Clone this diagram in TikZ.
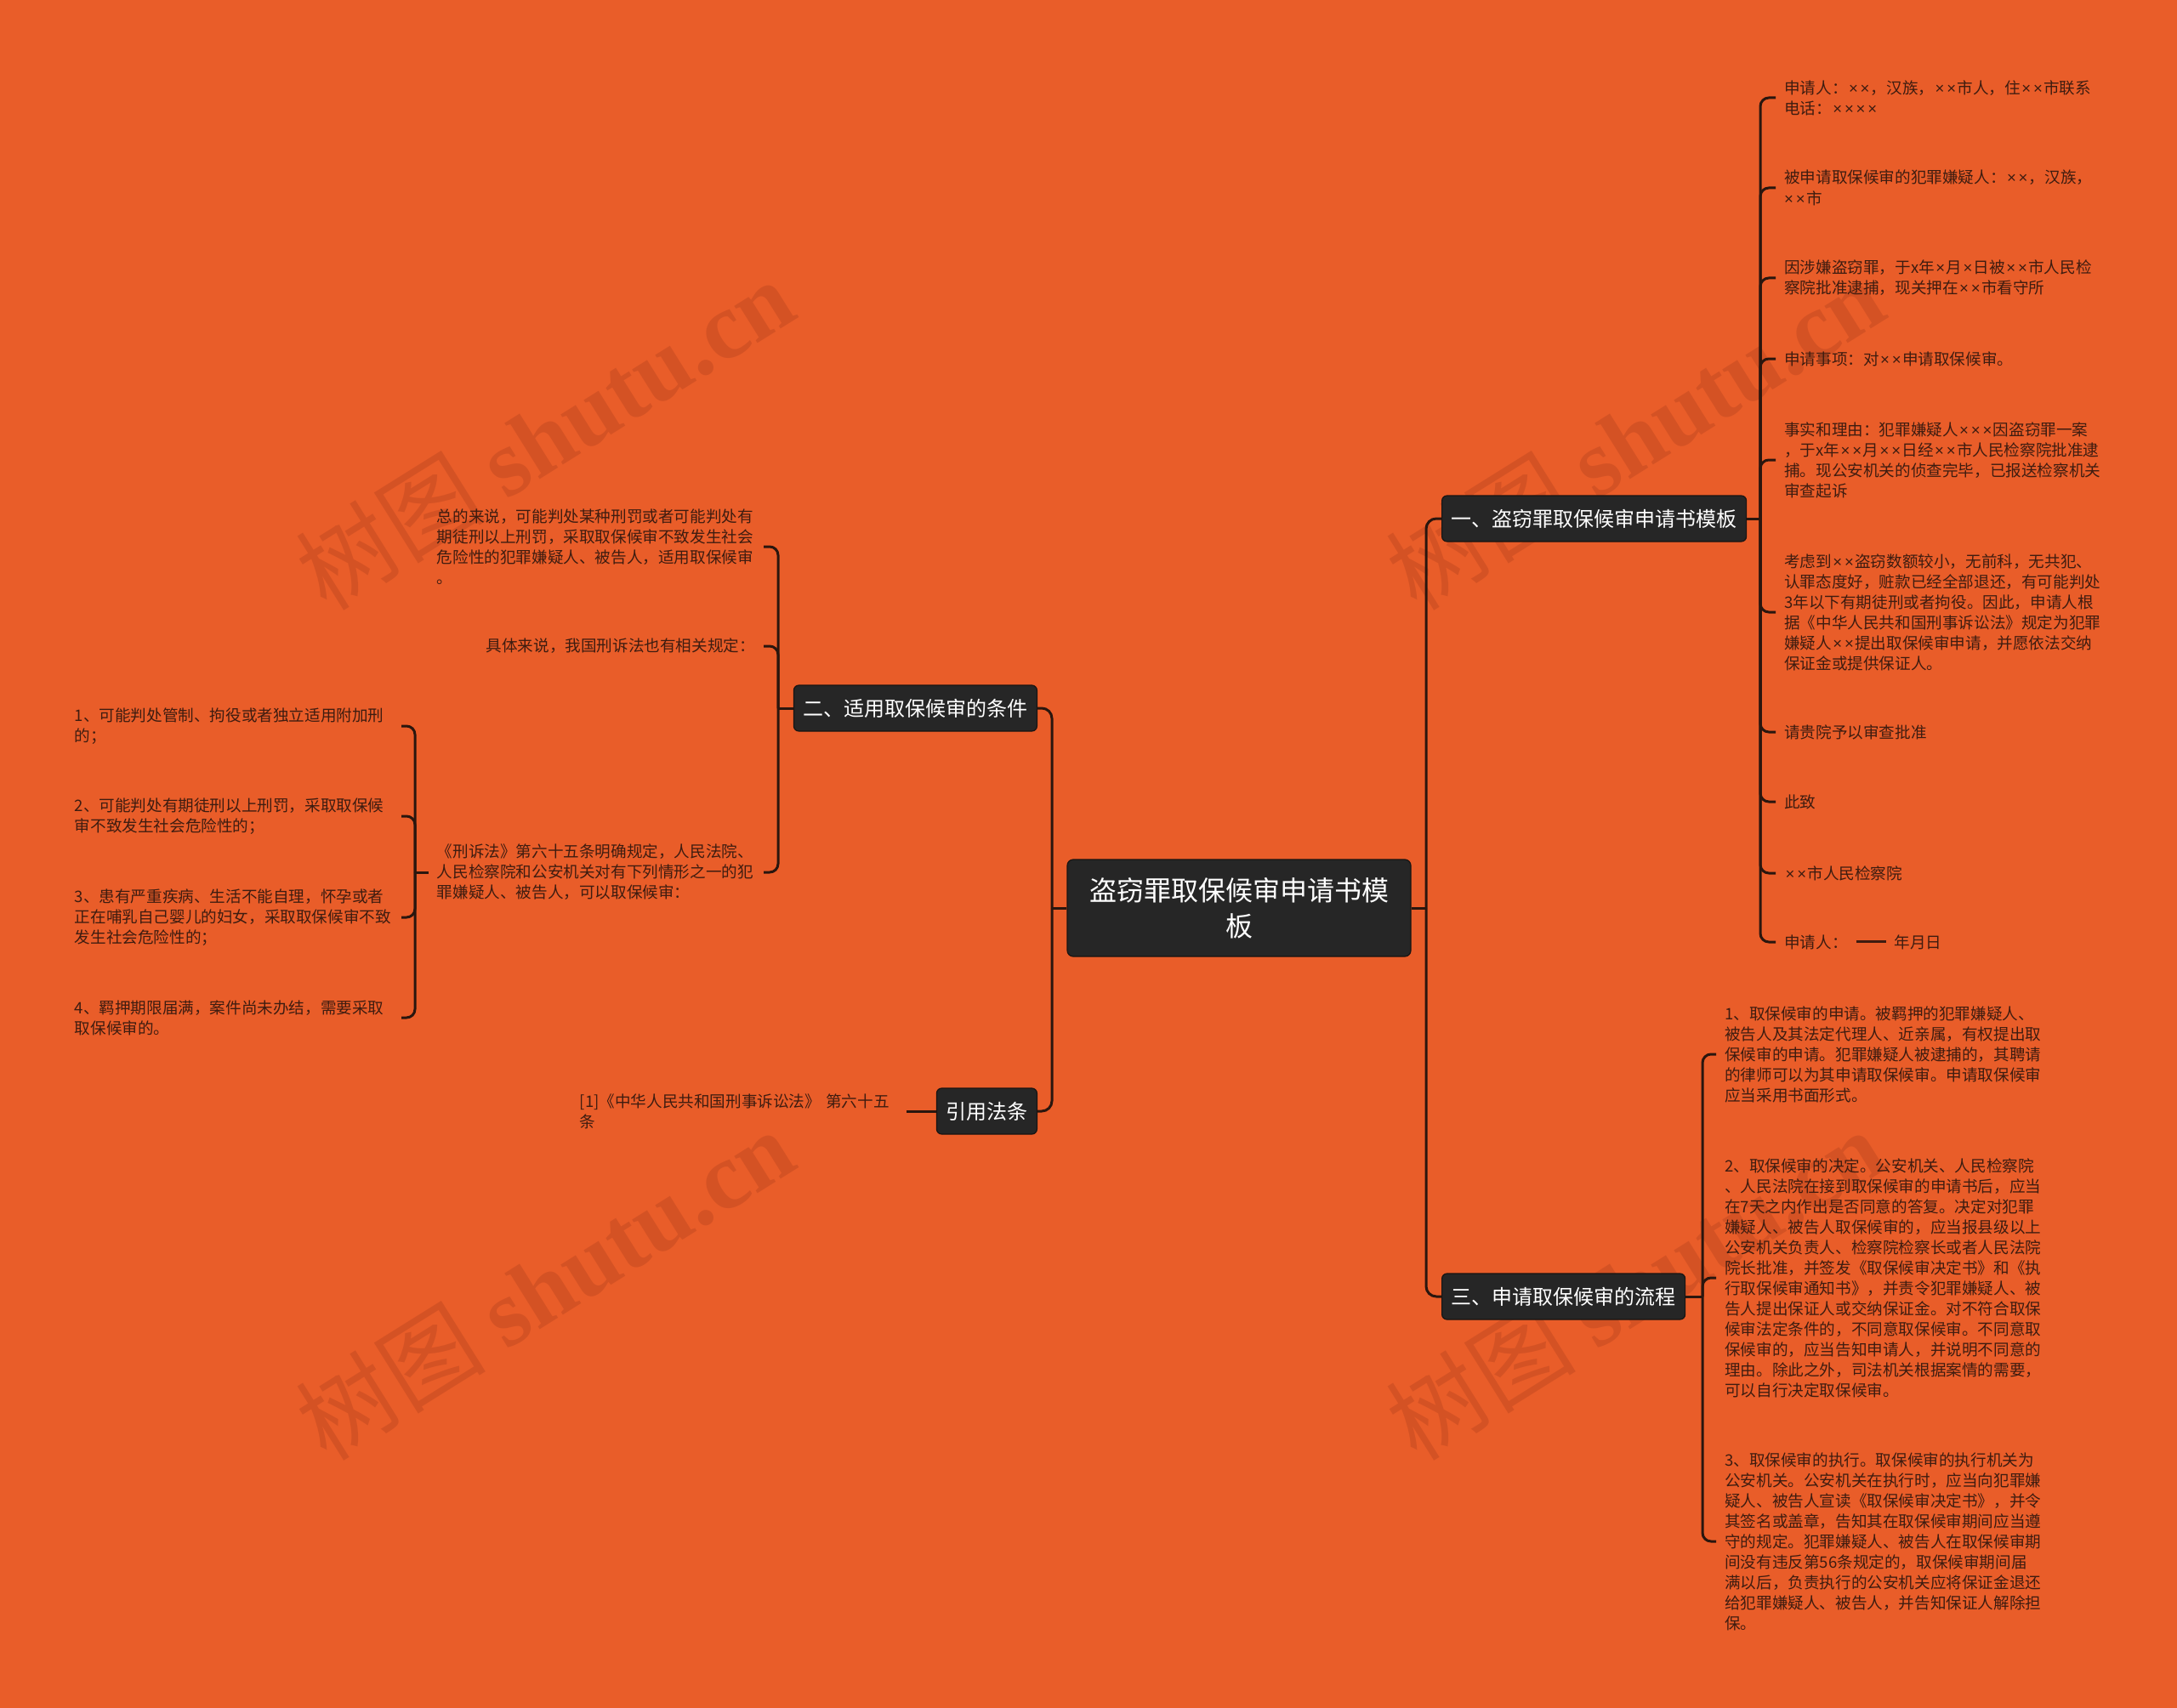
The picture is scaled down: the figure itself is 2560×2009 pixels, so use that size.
\documentclass[tikz,border=0pt]{standalone}
\usepackage{fontspec}
\setmainfont{Noto Sans CJK SC}
\newfontfamily\wmserif{Liberation Serif}
\newfontfamily\lsans{Liberation Sans}
\newcommand\tm{\kern1.4pt{\lsans ×}\kern1.4pt}
\definecolor{bgc}{RGB}{233,93,41}
\definecolor{boxc}{RGB}{38,38,38}
\definecolor{boxedge}{RGB}{25,20,18}
\definecolor{ink}{RGB}{62,28,16}
\definecolor{wirec}{RGB}{42,22,14}
\definecolor{wmc}{RGB}{160,55,25}
\begin{document}
\begin{tikzpicture}[x=1pt,y=-1pt,
  wire/.style={draw=wirec,line width=3pt},
  hook/.style={wire,rounded corners=10pt},
  trunk/.style={wire,rounded corners=12pt},
  rootbox/.style={fill=boxc,draw=boxedge,line width=1.2pt,rounded corners=7pt,text=white,
    font=\fontsize{32}{42}\selectfont,align=center,text width=380pt,
    minimum width=404pt,minimum height=114pt,inner sep=0pt},
  topic/.style={fill=boxc,draw=boxedge,line width=1.2pt,rounded corners=6pt,text=white,
    font=\fontsize{24}{28}\selectfont,minimum height=54pt,inner xsep=11pt,inner ysep=0pt},
  leaf/.style={text=ink,font=\fontsize{18.6}{24}\selectfont,align=left,text width=374pt,
    inner xsep=10pt,inner ysep=2pt},
  leafone/.style={text=ink,font=\fontsize{18.6}{24}\selectfont,inner xsep=10pt,inner ysep=2pt},
  wmark/.style={text=wmc,text opacity=0.28,font=\fontsize{112}{118}\selectfont,inner sep=0pt}
]
\fill[bgc] (0,0) rectangle (2560,2009);
\useasboundingbox (0,0) rectangle (2560,2009);

% watermarks
\node[wmark,rotate=32] (w1) at (640,510) {树图 {\wmserif\bfseries shutu.cn}};
\node[wmark,rotate=32] (w2) at (1922,510) {树图 {\wmserif\bfseries shutu.cn}};
\node[wmark,rotate=32] (w3) at (640,1510) {树图 {\wmserif\bfseries shutu.cn}};
\node[wmark,rotate=32] (w4) at (1922,1510) {树图 {\wmserif\bfseries shutu.cn}};

% root and topics
\node[rootbox] (root) at (1457,1068) {盗窃罪取保候审申请书模\\板};
\node[topic,anchor=west] (b1) at (1695,610) {一、盗窃罪取保候审申请书模板};
\node[topic,anchor=west] (b3) at (1695,1525) {三、申请取保候审的流程};
\node[topic,anchor=east] (b2) at (1220,833) {二、适用取保候审的条件};
\node[topic,anchor=east] (b4) at (1220,1307) {引用法条};

\coordinate (jr) at (1677,1068);
\coordinate (jl) at (1237,1068);
\draw[wire] (root.east) -- (jr);
\draw[wire] (root.west) -- (jl);
\draw[trunk] (jr) |- (b1.west);
\draw[trunk] (jr) |- (b3.west);
\draw[trunk] (jl) |- (b2.east);
\draw[trunk] (jl) |- (b4.east);

% branch 1 leaves
\node[leaf,anchor=west] (r1) at (2088,115) {申请人：\tm{}\tm{}，汉族，\tm{}\tm{}市人，住\tm{}\tm{}市联系\\电话：\tm{}\tm{}\tm{}\tm{}};
\node[leaf,anchor=west] (r2) at (2088,221) {被申请取保候审的犯罪嫌疑人：\tm{}\tm{}，汉族，\\\tm{}\tm{}市};
\node[leaf,anchor=west] (r3) at (2088,327) {因涉嫌盗窃罪，于x年\tm{}月\tm{}日被\tm{}\tm{}市人民检\\察院批准逮捕，现关押在\tm{}\tm{}市看守所};
\node[leafone,anchor=west] (r4) at (2088,422) {申请事项：对\tm{}\tm{}申请取保候审。};
\node[leaf,anchor=west] (r5) at (2088,541) {事实和理由：犯罪嫌疑人\tm{}\tm{}\tm{}因盗窃罪一案\\，于x年\tm{}\tm{}月\tm{}\tm{}日经\tm{}\tm{}市人民检察院批准逮\\捕。现公安机关的侦查完毕，已报送检察机关\\审查起诉};
\node[leaf,anchor=west] (r6) at (2088,720) {考虑到\tm{}\tm{}盗窃数额较小，无前科，无共犯、\\认罪态度好，赃款已经全部退还，有可能判处\\3年以下有期徒刑或者拘役。因此，申请人根\\据《中华人民共和国刑事诉讼法》规定为犯罪\\嫌疑人\tm{}\tm{}提出取保候审申请，并愿依法交纳\\保证金或提供保证人。};
\node[leafone,anchor=west] (r7) at (2088,861) {请贵院予以审查批准};
\node[leafone,anchor=west] (r8) at (2088,943) {此致};
\node[leafone,anchor=west] (r9) at (2088,1027) {\tm{}\tm{}市人民检察院};
\node[leafone,anchor=west] (r10) at (2088,1108) {申请人：\hspace{10pt}\rule[6pt]{35pt}{2.8pt}\hspace{10pt}年月日};

\coordinate (j1) at (2070,610);
\draw[wire] (b1.east) -- (j1);
\foreach \n in {r1,r2,r3,r4,r5,r6,r7,r8,r9,r10}{\draw[hook] (j1) |- (\n.west);}

% branch 3 leaves
\node[leaf,anchor=west] (s1) at (2018,1240) {1、取保候审的申请。被羁押的犯罪嫌疑人、\\被告人及其法定代理人、近亲属，有权提出取\\保候审的申请。犯罪嫌疑人被逮捕的，其聘请\\的律师可以为其申请取保候审。申请取保候审\\应当采用书面形式。};
\node[leaf,anchor=west] (s2) at (2018,1503) {2、取保候审的决定。公安机关、人民检察院\\、人民法院在接到取保候审的申请书后，应当\\在7天之内作出是否同意的答复。决定对犯罪\\嫌疑人、被告人取保候审的，应当报县级以上\\公安机关负责人、检察院检察长或者人民法院\\院长批准，并签发《取保候审决定书》和《执\\行取保候审通知书》，并责令犯罪嫌疑人、被\\告人提出保证人或交纳保证金。对不符合取保\\候审法定条件的，不同意取保候审。不同意取\\保候审的，应当告知申请人，并说明不同意的\\理由。除此之外，司法机关根据案情的需要，\\可以自行决定取保候审。};
\node[leaf,anchor=west] (s3) at (2018,1813) {3、取保候审的执行。取保候审的执行机关为\\公安机关。公安机关在执行时，应当向犯罪嫌\\疑人、被告人宣读《取保候审决定书》，并令\\其签名或盖章，告知其在取保候审期间应当遵\\守的规定。犯罪嫌疑人、被告人在取保候审期\\间没有违反第56条规定的，取保候审期间届\\满以后，负责执行的公安机关应将保证金退还\\给犯罪嫌疑人、被告人，并告知保证人解除担\\保。};

\coordinate (j3) at (2002,1525);
\draw[wire] (b3.east) -- (j3);
\foreach \n in {s1,s2,s3}{\draw[hook] (j3) |- (\n.west);}

% branch 2 leaves
\node[leaf,anchor=east] (la) at (898,643) {总的来说，可能判处某种刑罚或者可能判处有\\期徒刑以上刑罚，采取取保候审不致发生社会\\危险性的犯罪嫌疑人、被告人，适用取保候审\\。};
\node[leafone,anchor=east] (lb) at (898,760) {具体来说，我国刑诉法也有相关规定：};
\node[leaf,anchor=east] (lc) at (898,1026) {《刑诉法》第六十五条明确规定，人民法院、\\人民检察院和公安机关对有下列情形之一的犯\\罪嫌疑人、被告人，可以取保候审：};

\coordinate (j2) at (915,833);
\draw[wire] (b2.west) -- (j2);
\foreach \n in {la,lb,lc}{\draw[hook] (j2) |- (\n.east);}

% children of lc
\node[leaf,anchor=east] (c1) at (472,854) {1、可能判处管制、拘役或者独立适用附加刑\\的；};
\node[leaf,anchor=east] (c2) at (472,960) {2、可能判处有期徒刑以上刑罚，采取取保候\\审不致发生社会危险性的；};
\node[leaf,anchor=east] (c3) at (472,1079) {3、患有严重疾病、生活不能自理，怀孕或者\\正在哺乳自己婴儿的妇女，采取取保候审不致\\发生社会危险性的；};
\node[leaf,anchor=east] (c4) at (472,1197) {4、羁押期限届满，案件尚未办结，需要采取\\取保候审的。};

\coordinate (jc) at (488,1026);
\draw[wire] (lc.west) -- (jc);
\foreach \n in {c1,c2,c3,c4}{\draw[hook] (jc) |- (\n.east);}

% citation leaf
\node[leaf,anchor=east] (ref) at (1066,1307) {[1]《中华人民共和国刑事诉讼法》 第六十五\\条};
\draw[wire] (b4.west) -- (ref.east);
\end{tikzpicture}
\end{document}
